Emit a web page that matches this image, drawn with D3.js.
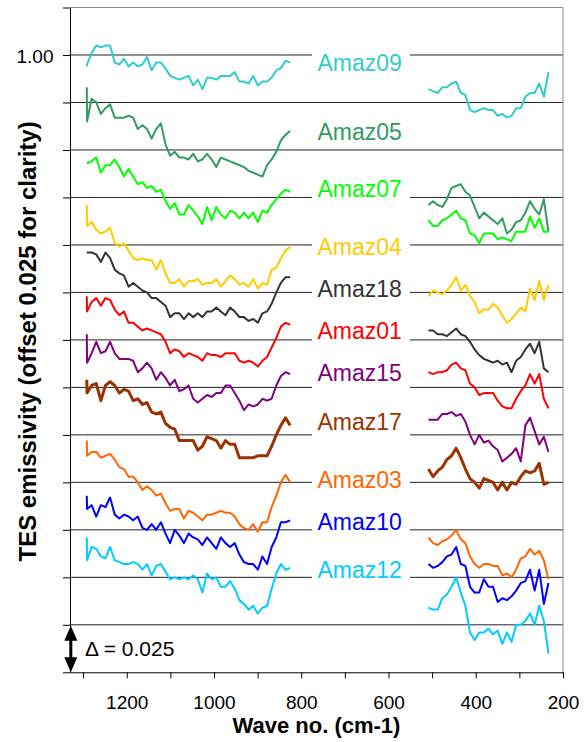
<!DOCTYPE html>
<html>
<head>
<meta charset="utf-8">
<script src="https://cdn.jsdelivr.net/npm/d3@7"></script>
<style>
  body { margin: 0; background: #fff; }
  svg { display: block; }
  text { font-family: Arial, "Liberation Sans", sans-serif; }
</style>
</head>
<body>
<script>
// wave numbers (cm-1) of the two plotted spectral ranges
var waveLeft = [1291.5, 1290.9, 1280.4, 1269.8, 1259.3, 1248.7, 1238.1, 1227.5, 1216.9, 1206.4, 1195.8,
  1185.2, 1174.6, 1164.0, 1153.5, 1142.9, 1132.3, 1121.7, 1111.1, 1100.6, 1090.0, 1079.4, 1068.8,
  1058.2, 1047.6, 1037.1, 1026.5, 1015.9, 1005.3, 994.7, 984.2, 973.6, 963.0, 952.4, 941.8, 931.3,
  920.7, 910.1, 899.5, 888.9, 878.3, 867.8, 857.2, 846.6, 836.0, 825.4];
var waveRight = [508.4, 497.8, 487.2, 476.6, 466.1, 455.5, 444.9, 434.3, 423.7, 413.2, 402.6, 392.0,
  381.4, 370.8, 360.3, 349.7, 339.1, 328.5, 317.9, 307.4, 296.8, 286.2, 275.6, 265.0, 254.5, 243.9, 233.3];

var samples = ["Amaz09", "Amaz05", "Amaz07", "Amaz04", "Amaz18", "Amaz01", "Amaz15", "Amaz17", "Amaz03", "Amaz10", "Amaz12"];
var offsets = [0, 0.025, 0.05, 0.075, 0.1, 0.125, 0.15, 0.175, 0.2, 0.225, 0.25];
var colors = ["#33cccc", "#339966", "#00ff00", "#ffcc00", "#333333", "#ff0000", "#800080", "#993300", "#ff6600", "#0000ff", "#00ccff"];

// emissivity (before offset)
var amaz09L = [0.994, 0.995, 1.001, 1.005, 1.004, 1.005, 1.005, 0.996, 0.995, 0.998, 0.994, 0.996, 0.994, 0.995, 0.999, 0.992, 0.996, 0.996, 0.993, 0.989, 0.988, 0.987, 0.988, 0.989, 0.984, 0.987, 0.982, 0.988, 0.988, 0.987, 0.989, 0.989, 0.989, 0.991, 0.986, 0.986, 0.985, 0.989, 0.984, 0.986, 0.986, 0.988, 0.992, 0.993, 0.997, 0.996];
var amaz09R = [0.982, 0.981, 0.980, 0.983, 0.983, 0.985, 0.986, 0.980, 0.979, 0.971, 0.970, 0.971, 0.972, 0.971, 0.971, 0.968, 0.969, 0.967, 0.968, 0.972, 0.972, 0.978, 0.980, 0.980, 0.985, 0.978, 0.991];
var amaz05L = [1.008, 0.990, 1.002, 1.000, 0.994, 0.997, 0.999, 0.992, 0.992, 0.992, 0.993, 0.992, 0.986, 0.988, 0.986, 0.981, 0.986, 0.989, 0.978, 0.972, 0.974, 0.971, 0.971, 0.970, 0.973, 0.969, 0.970, 0.973, 0.970, 0.966, 0.971, 0.970, 0.969, 0.968, 0.967, 0.966, 0.964, 0.963, 0.962, 0.961, 0.967, 0.970, 0.974, 0.980, 0.983, 0.985];
var amaz05R = [0.946, 0.948, 0.946, 0.945, 0.949, 0.955, 0.956, 0.957, 0.953, 0.951, 0.945, 0.939, 0.942, 0.940, 0.938, 0.936, 0.939, 0.931, 0.933, 0.937, 0.938, 0.942, 0.948, 0.944, 0.941, 0.949, 0.932];
var amaz07L = [0.993, 0.993, 0.994, 0.996, 0.988, 0.992, 0.992, 0.995, 0.991, 0.986, 0.990, 0.986, 0.982, 0.983, 0.980, 0.981, 0.978, 0.979, 0.973, 0.969, 0.972, 0.966, 0.966, 0.971, 0.968, 0.965, 0.961, 0.970, 0.963, 0.970, 0.966, 0.964, 0.968, 0.967, 0.964, 0.967, 0.964, 0.967, 0.962, 0.968, 0.967, 0.971, 0.974, 0.977, 0.979, 0.978];
var amaz07R = [0.963, 0.960, 0.960, 0.963, 0.964, 0.966, 0.968, 0.964, 0.963, 0.956, 0.955, 0.951, 0.956, 0.956, 0.956, 0.953, 0.954, 0.953, 0.952, 0.957, 0.957, 0.957, 0.965, 0.959, 0.964, 0.957, 0.957];
var amaz04L = [0.996, 0.985, 0.987, 0.983, 0.981, 0.982, 0.984, 0.976, 0.974, 0.976, 0.972, 0.968, 0.967, 0.968, 0.967, 0.967, 0.962, 0.967, 0.960, 0.955, 0.955, 0.957, 0.953, 0.956, 0.956, 0.957, 0.954, 0.955, 0.955, 0.957, 0.953, 0.956, 0.959, 0.957, 0.954, 0.955, 0.953, 0.957, 0.952, 0.955, 0.954, 0.962, 0.963, 0.968, 0.972, 0.974];
var amaz04R = [0.948, 0.951, 0.950, 0.949, 0.951, 0.954, 0.958, 0.951, 0.954, 0.948, 0.945, 0.939, 0.941, 0.941, 0.944, 0.942, 0.938, 0.934, 0.936, 0.939, 0.942, 0.940, 0.952, 0.946, 0.956, 0.946, 0.954];
var amaz18L = [0.996, 0.996, 0.996, 0.995, 0.991, 0.996, 0.993, 0.987, 0.985, 0.984, 0.978, 0.980, 0.978, 0.976, 0.975, 0.972, 0.972, 0.970, 0.968, 0.962, 0.964, 0.964, 0.961, 0.964, 0.962, 0.964, 0.962, 0.965, 0.965, 0.967, 0.965, 0.963, 0.967, 0.965, 0.962, 0.962, 0.960, 0.961, 0.959, 0.964, 0.965, 0.969, 0.975, 0.980, 0.983, 0.983];
var amaz18R = [0.955, 0.955, 0.953, 0.953, 0.952, 0.954, 0.956, 0.953, 0.952, 0.949, 0.945, 0.942, 0.940, 0.939, 0.938, 0.939, 0.937, 0.938, 0.933, 0.939, 0.941, 0.945, 0.948, 0.943, 0.949, 0.935, 0.933];
var amaz01L = [0.998, 0.990, 0.995, 0.997, 0.993, 0.997, 0.996, 0.991, 0.988, 0.990, 0.984, 0.984, 0.982, 0.980, 0.981, 0.980, 0.979, 0.978, 0.974, 0.968, 0.970, 0.969, 0.966, 0.968, 0.967, 0.966, 0.964, 0.968, 0.967, 0.967, 0.966, 0.968, 0.968, 0.968, 0.964, 0.963, 0.964, 0.963, 0.961, 0.964, 0.966, 0.971, 0.976, 0.982, 0.984, 0.983];
var amaz01R = [0.958, 0.957, 0.958, 0.958, 0.959, 0.962, 0.963, 0.960, 0.959, 0.952, 0.950, 0.946, 0.947, 0.947, 0.947, 0.943, 0.940, 0.939, 0.939, 0.944, 0.948, 0.951, 0.957, 0.952, 0.957, 0.944, 0.939];
var amaz15L = [1.003, 0.988, 0.993, 0.999, 0.993, 0.994, 0.999, 0.993, 0.990, 0.990, 0.990, 0.989, 0.983, 0.985, 0.988, 0.985, 0.979, 0.983, 0.980, 0.976, 0.979, 0.973, 0.974, 0.976, 0.969, 0.967, 0.969, 0.971, 0.970, 0.972, 0.972, 0.976, 0.976, 0.972, 0.968, 0.963, 0.966, 0.965, 0.966, 0.969, 0.968, 0.969, 0.976, 0.981, 0.983, 0.982];
var amaz15R = [0.958, 0.958, 0.958, 0.961, 0.961, 0.962, 0.960, 0.961, 0.957, 0.950, 0.945, 0.950, 0.946, 0.947, 0.944, 0.942, 0.936, 0.938, 0.940, 0.943, 0.936, 0.955, 0.959, 0.952, 0.945, 0.949, 0.941];
var amaz17L = [1.004, 0.997, 1.001, 1.002, 0.993, 1.001, 1.003, 1.001, 0.997, 0.999, 0.998, 0.993, 0.994, 0.991, 0.992, 0.987, 0.986, 0.987, 0.981, 0.979, 0.978, 0.972, 0.972, 0.972, 0.972, 0.967, 0.969, 0.974, 0.973, 0.972, 0.968, 0.972, 0.970, 0.970, 0.963, 0.963, 0.963, 0.963, 0.964, 0.964, 0.964, 0.969, 0.975, 0.980, 0.984, 0.980];
var amaz17R = [0.957, 0.953, 0.956, 0.958, 0.962, 0.964, 0.968, 0.963, 0.957, 0.952, 0.950, 0.947, 0.952, 0.951, 0.950, 0.946, 0.950, 0.946, 0.950, 0.949, 0.953, 0.956, 0.955, 0.956, 0.960, 0.949, 0.950];
var amaz03L = [0.997, 0.989, 0.991, 0.991, 0.988, 0.989, 0.990, 0.987, 0.983, 0.982, 0.978, 0.978, 0.975, 0.971, 0.973, 0.971, 0.968, 0.969, 0.964, 0.960, 0.961, 0.961, 0.956, 0.960, 0.959, 0.957, 0.955, 0.958, 0.958, 0.959, 0.960, 0.959, 0.959, 0.957, 0.953, 0.951, 0.950, 0.953, 0.949, 0.954, 0.954, 0.962, 0.968, 0.975, 0.979, 0.975];
var amaz03R = [0.946, 0.943, 0.942, 0.944, 0.945, 0.947, 0.950, 0.945, 0.943, 0.936, 0.932, 0.930, 0.932, 0.932, 0.931, 0.931, 0.926, 0.927, 0.925, 0.929, 0.935, 0.936, 0.940, 0.937, 0.939, 0.934, 0.924];
var amaz10L = [0.993, 0.986, 0.988, 0.982, 0.988, 0.987, 0.992, 0.983, 0.981, 0.983, 0.982, 0.980, 0.982, 0.976, 0.975, 0.978, 0.975, 0.979, 0.973, 0.968, 0.975, 0.972, 0.968, 0.973, 0.971, 0.970, 0.967, 0.971, 0.968, 0.965, 0.971, 0.968, 0.966, 0.968, 0.962, 0.958, 0.957, 0.957, 0.954, 0.961, 0.957, 0.966, 0.971, 0.979, 0.979, 0.980];
var amaz10R = [0.957, 0.955, 0.956, 0.958, 0.961, 0.962, 0.966, 0.957, 0.956, 0.945, 0.942, 0.942, 0.949, 0.945, 0.945, 0.937, 0.939, 0.938, 0.940, 0.943, 0.947, 0.948, 0.954, 0.943, 0.954, 0.936, 0.947];
var amaz12L = [0.996, 0.984, 0.991, 0.990, 0.986, 0.985, 0.991, 0.984, 0.983, 0.982, 0.982, 0.983, 0.982, 0.979, 0.982, 0.976, 0.981, 0.982, 0.978, 0.974, 0.975, 0.974, 0.975, 0.974, 0.976, 0.974, 0.967, 0.977, 0.974, 0.975, 0.970, 0.970, 0.973, 0.969, 0.963, 0.961, 0.958, 0.960, 0.956, 0.959, 0.960, 0.969, 0.977, 0.982, 0.979, 0.980];
var amaz12R = [0.959, 0.958, 0.958, 0.964, 0.966, 0.970, 0.975, 0.967, 0.960, 0.946, 0.942, 0.946, 0.946, 0.948, 0.945, 0.947, 0.940, 0.946, 0.941, 0.950, 0.950, 0.952, 0.956, 0.950, 0.960, 0.952, 0.935];

var leftData = [amaz09L, amaz05L, amaz07L, amaz04L, amaz18L, amaz01L, amaz15L, amaz17L, amaz03L, amaz10L, amaz12L];
var rightData = [amaz09R, amaz05R, amaz07R, amaz04R, amaz18R, amaz01R, amaz15R, amaz17R, amaz03R, amaz10R, amaz12R];

var yTicks = [0.675, 0.7, 0.725, 0.75, 0.775, 0.8, 0.825, 0.85, 0.875, 0.9, 0.925, 0.95, 0.975, 1.0, 1.025];
var xTicks = [1300, 1200, 1100, 1000, 900, 800, 700, 600, 500, 400, 300, 200];

// layout
var width = 588, height = 742;
var plot = {left: 70, right: 563, top: 7.5, bottom: 672.3};
var labelCenterY = [62.7, 131.7, 188.5, 247, 289, 330.5, 372.5, 421.7, 480, 521.7, 570];

var svg = d3.select("body").append("svg")
    .attr("width", width)
    .attr("height", height);

var x = d3.scaleLinear().domain([1330, 200]).range([plot.left, plot.right]);
var y = d3.scaleLinear().domain([0.675, 1.025]).range([plot.bottom, plot.top]);

// gridlines
svg.append("g").selectAll("line")
    .data(yTicks.filter(d => d > 0.68 && d < 1.01))
    .enter().append("line")
    .attr("x1", plot.left).attr("x2", plot.right)
    .attr("y1", d => y(d)).attr("y2", d => y(d))
    .attr("stroke", "#222").attr("stroke-width", 1);

// plot frame (top, right)
svg.append("path")
    .attr("d", `M${plot.left},${y(1.025)}H${plot.right}V${plot.bottom}`)
    .attr("fill", "none").attr("stroke", "#888").attr("stroke-width", 1);

// white boxes behind the sample names
svg.append("g").selectAll("rect")
    .data(samples)
    .enter().append("rect")
    .attr("x", 312).attr("width", 98)
    .attr("y", (d, i) => labelCenterY[i] - 15)
    .attr("height", 32)
    .attr("fill", "#fff");

var line = d3.line()
    .x(d => x(d[0]))
    .y(d => y(d[1]));

samples.forEach(function(name, i) {
  var off = offsets[i];
  var segL = waveLeft.map((w, k) => [w, leftData[i][k] - off]);
  var segR = waveRight.map((w, k) => [w, rightData[i][k] - off]);
  [segL, segR].forEach(function(seg) {
    svg.append("path")
      .datum(seg)
      .attr("d", line)
      .attr("fill", "none")
      .attr("stroke", colors[i])
      .attr("stroke-width", name === "Amaz17" ? 3 : 2)
      .attr("stroke-linejoin", "round");
  });
});

// sample names
svg.append("g").selectAll("text")
    .data(samples)
    .enter().append("text")
    .attr("x", 317.5)
    .attr("y", (d, i) => labelCenterY[i] + 8.3)
    .attr("fill", (d, i) => colors[i])
    .style("font-size", "23px")
    .text(d => d);

// axes
var yAxis = svg.append("g")
    .attr("transform", `translate(${plot.left},0)`)
    .call(d3.axisLeft(y).tickValues(yTicks).tickSize(7).tickSizeOuter(0).tickPadding(9.5)
      .tickFormat(d => Math.abs(d - 1) < 1e-9 ? "1.00" : ""));
yAxis.select(".domain").attr("stroke", "#000");
yAxis.selectAll("text").style("font-size", "19px").attr("dy", "0.42em").attr("fill", "#000");

var xAxis = svg.append("g")
    .attr("transform", `translate(0,${plot.bottom})`)
    .call(d3.axisBottom(x).tickValues(xTicks).tickSize(6).tickSizeOuter(0).tickPadding(17)
      .tickFormat(d => d % 200 === 0 ? d : ""));
xAxis.selectAll("text").style("font-size", "19px").attr("fill", "#000");

// axis titles
svg.append("text")
    .attr("x", (plot.left + plot.right) / 2)
    .attr("y", 733)
    .attr("text-anchor", "middle")
    .style("font-size", "22px").style("font-weight", "bold")
    .text("Wave no. (cm-1)");

svg.append("text")
    .attr("transform", `translate(35.5,${(plot.top + plot.bottom) / 2 + 1.5}) rotate(-90)`)
    .attr("text-anchor", "middle")
    .style("font-size", "24px").style("font-weight", "bold")
    .text("TES emissivity (offset 0.025 for clarity)");

// offset scale arrow
var ax = plot.left + 0.8, yTop = y(0.7), yBot = y(0.675);
svg.append("line")
    .attr("x1", ax).attr("x2", ax)
    .attr("y1", yTop + 10).attr("y2", yBot - 10)
    .attr("stroke", "#000").attr("stroke-width", 3);
svg.append("path")
    .attr("d", `M${ax},${yTop + 1}L${ax - 6.5},${yTop + 16}L${ax + 6.5},${yTop + 16}Z` +
               `M${ax},${yBot}L${ax - 6.5},${yBot - 15}L${ax + 6.5},${yBot - 15}Z`)
    .attr("fill", "#000");
svg.append("text")
    .attr("x", 85)
    .attr("y", 655.5)
    .style("font-size", "21px")
    .text("\u0394 = 0.025");
</script>
</body>
</html>
